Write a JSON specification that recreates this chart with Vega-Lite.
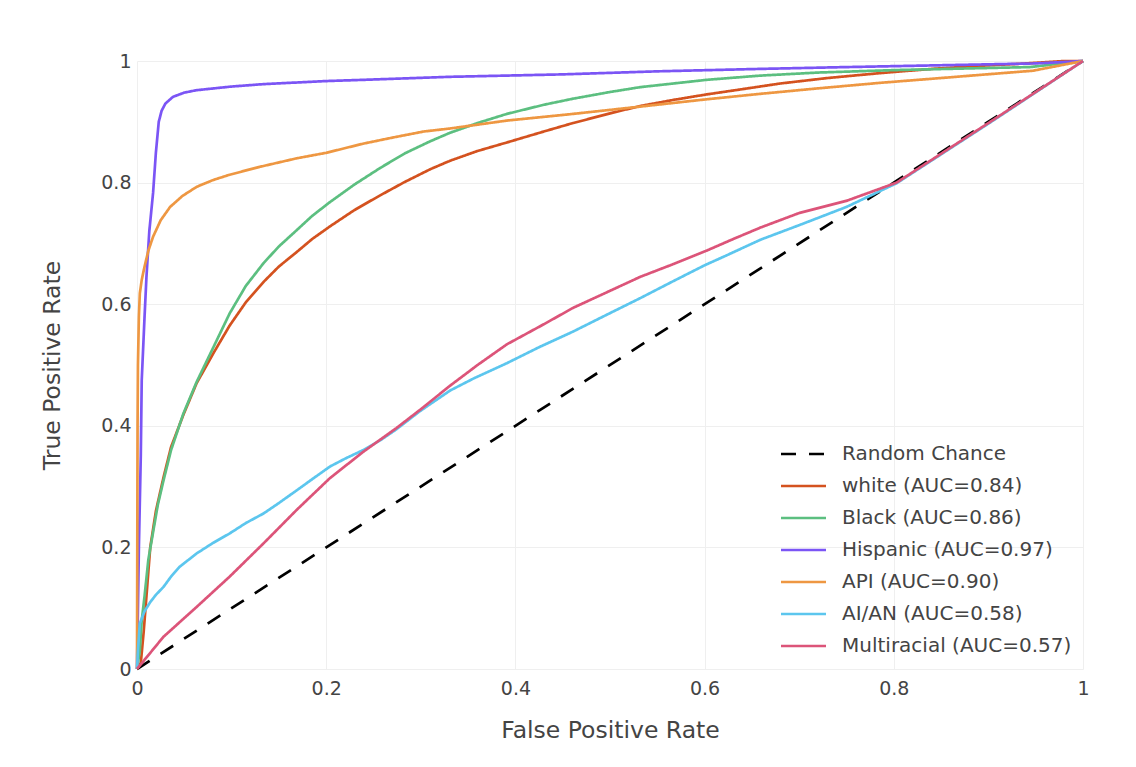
{
  "$schema": "https://vega.github.io/schema/vega-lite/v6.json",
  "width": 946,
  "height": 608,
  "autosize": "none",
  "padding": {"left": 137, "top": 61, "right": 53, "bottom": 98},
  "background": "white",
  "config": {
    "view": {"stroke": null},
    "font": "DejaVu Sans",
    "axis": {
      "domain": false,
      "ticks": false,
      "tickSize": 0,
      "gridColor": "#efefef",
      "gridWidth": 1,
      "labelFont": "DejaVu Sans",
      "labelFontSize": 19,
      "labelColor": "#444",
      "titleFont": "DejaVu Sans",
      "titleFontSize": 23.5,
      "titleFontWeight": "normal",
      "titleColor": "#444",
      "labelFlush": false
    },
    "legend": {
      "orient": "none",
      "legendX": 656.5,
      "legendY": 383,
      "padding": 0,
      "symbolType": "M-5,0H5",
      "symbolSize": 81,
      "symbolStrokeWidth": 2.7,
      "symbolFillColor": "transparent",
      "labelFont": "DejaVu Sans",
      "labelFontSize": 20,
      "labelColor": "#444",
      "labelOffset": 28.5,
      "labelLimit": 0,
      "rowPadding": 12,
      "title": null
    }
  },
  "datasets": {
    "roc": [
      {"g": "Random Chance", "x": 0, "y": 0},
      {"g": "Random Chance", "x": 1, "y": 1},

      {"g": "white (AUC=0.84)", "x": 0, "y": 0},
      {"g": "white (AUC=0.84)", "x": 0.004, "y": 0.01},
      {"g": "white (AUC=0.84)", "x": 0.007, "y": 0.06},
      {"g": "white (AUC=0.84)", "x": 0.01, "y": 0.12},
      {"g": "white (AUC=0.84)", "x": 0.014, "y": 0.2},
      {"g": "white (AUC=0.84)", "x": 0.02, "y": 0.26},
      {"g": "white (AUC=0.84)", "x": 0.028, "y": 0.315},
      {"g": "white (AUC=0.84)", "x": 0.036, "y": 0.365},
      {"g": "white (AUC=0.84)", "x": 0.049, "y": 0.418},
      {"g": "white (AUC=0.84)", "x": 0.063, "y": 0.47},
      {"g": "white (AUC=0.84)", "x": 0.081, "y": 0.52},
      {"g": "white (AUC=0.84)", "x": 0.098, "y": 0.565},
      {"g": "white (AUC=0.84)", "x": 0.115, "y": 0.603},
      {"g": "white (AUC=0.84)", "x": 0.134, "y": 0.637},
      {"g": "white (AUC=0.84)", "x": 0.15, "y": 0.662},
      {"g": "white (AUC=0.84)", "x": 0.169, "y": 0.686},
      {"g": "white (AUC=0.84)", "x": 0.185, "y": 0.707},
      {"g": "white (AUC=0.84)", "x": 0.204, "y": 0.728},
      {"g": "white (AUC=0.84)", "x": 0.23, "y": 0.755},
      {"g": "white (AUC=0.84)", "x": 0.257, "y": 0.779},
      {"g": "white (AUC=0.84)", "x": 0.283, "y": 0.801},
      {"g": "white (AUC=0.84)", "x": 0.31, "y": 0.822},
      {"g": "white (AUC=0.84)", "x": 0.331, "y": 0.836},
      {"g": "white (AUC=0.84)", "x": 0.36, "y": 0.852},
      {"g": "white (AUC=0.84)", "x": 0.391, "y": 0.866},
      {"g": "white (AUC=0.84)", "x": 0.43, "y": 0.884},
      {"g": "white (AUC=0.84)", "x": 0.461, "y": 0.898},
      {"g": "white (AUC=0.84)", "x": 0.503, "y": 0.915},
      {"g": "white (AUC=0.84)", "x": 0.532, "y": 0.926},
      {"g": "white (AUC=0.84)", "x": 0.567, "y": 0.936},
      {"g": "white (AUC=0.84)", "x": 0.602, "y": 0.945},
      {"g": "white (AUC=0.84)", "x": 0.637, "y": 0.953},
      {"g": "white (AUC=0.84)", "x": 0.68, "y": 0.963},
      {"g": "white (AUC=0.84)", "x": 0.73, "y": 0.972},
      {"g": "white (AUC=0.84)", "x": 0.785, "y": 0.98},
      {"g": "white (AUC=0.84)", "x": 0.84, "y": 0.987},
      {"g": "white (AUC=0.84)", "x": 0.89, "y": 0.992},
      {"g": "white (AUC=0.84)", "x": 0.94, "y": 0.996},
      {"g": "white (AUC=0.84)", "x": 0.98, "y": 1.0},
      {"g": "white (AUC=0.84)", "x": 1, "y": 1},

      {"g": "Black (AUC=0.86)", "x": 0, "y": 0},
      {"g": "Black (AUC=0.86)", "x": 0.003, "y": 0.03},
      {"g": "Black (AUC=0.86)", "x": 0.005, "y": 0.08},
      {"g": "Black (AUC=0.86)", "x": 0.008, "y": 0.12},
      {"g": "Black (AUC=0.86)", "x": 0.012, "y": 0.18},
      {"g": "Black (AUC=0.86)", "x": 0.017, "y": 0.225},
      {"g": "Black (AUC=0.86)", "x": 0.022, "y": 0.27},
      {"g": "Black (AUC=0.86)", "x": 0.028, "y": 0.31},
      {"g": "Black (AUC=0.86)", "x": 0.036, "y": 0.36},
      {"g": "Black (AUC=0.86)", "x": 0.049, "y": 0.42},
      {"g": "Black (AUC=0.86)", "x": 0.063, "y": 0.472},
      {"g": "Black (AUC=0.86)", "x": 0.081, "y": 0.53},
      {"g": "Black (AUC=0.86)", "x": 0.098, "y": 0.585},
      {"g": "Black (AUC=0.86)", "x": 0.115, "y": 0.63},
      {"g": "Black (AUC=0.86)", "x": 0.134, "y": 0.668},
      {"g": "Black (AUC=0.86)", "x": 0.15, "y": 0.695},
      {"g": "Black (AUC=0.86)", "x": 0.169, "y": 0.722},
      {"g": "Black (AUC=0.86)", "x": 0.185, "y": 0.745},
      {"g": "Black (AUC=0.86)", "x": 0.204, "y": 0.768},
      {"g": "Black (AUC=0.86)", "x": 0.23, "y": 0.797},
      {"g": "Black (AUC=0.86)", "x": 0.257, "y": 0.824},
      {"g": "Black (AUC=0.86)", "x": 0.283, "y": 0.848},
      {"g": "Black (AUC=0.86)", "x": 0.31, "y": 0.868},
      {"g": "Black (AUC=0.86)", "x": 0.331, "y": 0.882},
      {"g": "Black (AUC=0.86)", "x": 0.36, "y": 0.898},
      {"g": "Black (AUC=0.86)", "x": 0.391, "y": 0.913},
      {"g": "Black (AUC=0.86)", "x": 0.43, "y": 0.928},
      {"g": "Black (AUC=0.86)", "x": 0.461, "y": 0.938},
      {"g": "Black (AUC=0.86)", "x": 0.5, "y": 0.949},
      {"g": "Black (AUC=0.86)", "x": 0.532, "y": 0.957},
      {"g": "Black (AUC=0.86)", "x": 0.567, "y": 0.963},
      {"g": "Black (AUC=0.86)", "x": 0.602, "y": 0.969},
      {"g": "Black (AUC=0.86)", "x": 0.659, "y": 0.976},
      {"g": "Black (AUC=0.86)", "x": 0.72, "y": 0.981},
      {"g": "Black (AUC=0.86)", "x": 0.8, "y": 0.985},
      {"g": "Black (AUC=0.86)", "x": 0.856, "y": 0.987},
      {"g": "Black (AUC=0.86)", "x": 0.944, "y": 0.99},
      {"g": "Black (AUC=0.86)", "x": 1, "y": 1},

      {"g": "Hispanic (AUC=0.97)", "x": 0, "y": 0},
      {"g": "Hispanic (AUC=0.97)", "x": 0.001, "y": 0.1},
      {"g": "Hispanic (AUC=0.97)", "x": 0.002, "y": 0.2},
      {"g": "Hispanic (AUC=0.97)", "x": 0.004, "y": 0.35},
      {"g": "Hispanic (AUC=0.97)", "x": 0.005, "y": 0.475},
      {"g": "Hispanic (AUC=0.97)", "x": 0.008, "y": 0.58},
      {"g": "Hispanic (AUC=0.97)", "x": 0.01, "y": 0.645},
      {"g": "Hispanic (AUC=0.97)", "x": 0.013, "y": 0.72},
      {"g": "Hispanic (AUC=0.97)", "x": 0.017, "y": 0.783},
      {"g": "Hispanic (AUC=0.97)", "x": 0.02, "y": 0.85},
      {"g": "Hispanic (AUC=0.97)", "x": 0.023, "y": 0.9},
      {"g": "Hispanic (AUC=0.97)", "x": 0.026, "y": 0.918},
      {"g": "Hispanic (AUC=0.97)", "x": 0.03, "y": 0.93},
      {"g": "Hispanic (AUC=0.97)", "x": 0.038, "y": 0.941},
      {"g": "Hispanic (AUC=0.97)", "x": 0.05, "y": 0.948},
      {"g": "Hispanic (AUC=0.97)", "x": 0.063, "y": 0.952},
      {"g": "Hispanic (AUC=0.97)", "x": 0.1, "y": 0.958},
      {"g": "Hispanic (AUC=0.97)", "x": 0.134, "y": 0.962},
      {"g": "Hispanic (AUC=0.97)", "x": 0.2, "y": 0.967},
      {"g": "Hispanic (AUC=0.97)", "x": 0.239, "y": 0.969},
      {"g": "Hispanic (AUC=0.97)", "x": 0.331, "y": 0.974},
      {"g": "Hispanic (AUC=0.97)", "x": 0.45, "y": 0.978},
      {"g": "Hispanic (AUC=0.97)", "x": 0.55, "y": 0.983},
      {"g": "Hispanic (AUC=0.97)", "x": 0.659, "y": 0.987},
      {"g": "Hispanic (AUC=0.97)", "x": 0.75, "y": 0.99},
      {"g": "Hispanic (AUC=0.97)", "x": 0.85, "y": 0.993},
      {"g": "Hispanic (AUC=0.97)", "x": 0.95, "y": 0.996},
      {"g": "Hispanic (AUC=0.97)", "x": 1, "y": 1},

      {"g": "API (AUC=0.90)", "x": 0, "y": 0},
      {"g": "API (AUC=0.90)", "x": 0.0003, "y": 0.2},
      {"g": "API (AUC=0.90)", "x": 0.0006, "y": 0.4},
      {"g": "API (AUC=0.90)", "x": 0.001, "y": 0.5},
      {"g": "API (AUC=0.90)", "x": 0.002, "y": 0.58},
      {"g": "API (AUC=0.90)", "x": 0.003, "y": 0.618},
      {"g": "API (AUC=0.90)", "x": 0.005, "y": 0.64},
      {"g": "API (AUC=0.90)", "x": 0.008, "y": 0.662},
      {"g": "API (AUC=0.90)", "x": 0.012, "y": 0.688},
      {"g": "API (AUC=0.90)", "x": 0.017, "y": 0.711},
      {"g": "API (AUC=0.90)", "x": 0.025, "y": 0.738},
      {"g": "API (AUC=0.90)", "x": 0.035, "y": 0.76},
      {"g": "API (AUC=0.90)", "x": 0.048, "y": 0.778},
      {"g": "API (AUC=0.90)", "x": 0.063, "y": 0.793},
      {"g": "API (AUC=0.90)", "x": 0.08, "y": 0.804},
      {"g": "API (AUC=0.90)", "x": 0.098, "y": 0.813},
      {"g": "API (AUC=0.90)", "x": 0.13, "y": 0.826},
      {"g": "API (AUC=0.90)", "x": 0.169, "y": 0.84},
      {"g": "API (AUC=0.90)", "x": 0.2, "y": 0.849},
      {"g": "API (AUC=0.90)", "x": 0.239, "y": 0.864},
      {"g": "API (AUC=0.90)", "x": 0.27, "y": 0.874},
      {"g": "API (AUC=0.90)", "x": 0.303, "y": 0.884},
      {"g": "API (AUC=0.90)", "x": 0.331, "y": 0.889},
      {"g": "API (AUC=0.90)", "x": 0.391, "y": 0.902},
      {"g": "API (AUC=0.90)", "x": 0.461, "y": 0.913},
      {"g": "API (AUC=0.90)", "x": 0.532, "y": 0.925},
      {"g": "API (AUC=0.90)", "x": 0.602, "y": 0.937},
      {"g": "API (AUC=0.90)", "x": 0.659, "y": 0.946},
      {"g": "API (AUC=0.90)", "x": 0.72, "y": 0.955},
      {"g": "API (AUC=0.90)", "x": 0.785, "y": 0.964},
      {"g": "API (AUC=0.90)", "x": 0.85, "y": 0.972},
      {"g": "API (AUC=0.90)", "x": 0.89, "y": 0.977},
      {"g": "API (AUC=0.90)", "x": 0.947, "y": 0.984},
      {"g": "API (AUC=0.90)", "x": 1, "y": 1},

      {"g": "AI/AN (AUC=0.58)", "x": 0, "y": 0},
      {"g": "AI/AN (AUC=0.58)", "x": 0.001, "y": 0.031},
      {"g": "AI/AN (AUC=0.58)", "x": 0.003, "y": 0.075},
      {"g": "AI/AN (AUC=0.58)", "x": 0.008, "y": 0.095},
      {"g": "AI/AN (AUC=0.58)", "x": 0.014, "y": 0.11},
      {"g": "AI/AN (AUC=0.58)", "x": 0.02, "y": 0.122},
      {"g": "AI/AN (AUC=0.58)", "x": 0.028, "y": 0.135},
      {"g": "AI/AN (AUC=0.58)", "x": 0.036, "y": 0.152},
      {"g": "AI/AN (AUC=0.58)", "x": 0.045, "y": 0.168},
      {"g": "AI/AN (AUC=0.58)", "x": 0.063, "y": 0.19},
      {"g": "AI/AN (AUC=0.58)", "x": 0.08, "y": 0.207},
      {"g": "AI/AN (AUC=0.58)", "x": 0.098, "y": 0.223},
      {"g": "AI/AN (AUC=0.58)", "x": 0.115, "y": 0.24},
      {"g": "AI/AN (AUC=0.58)", "x": 0.134, "y": 0.256},
      {"g": "AI/AN (AUC=0.58)", "x": 0.15, "y": 0.273},
      {"g": "AI/AN (AUC=0.58)", "x": 0.169, "y": 0.294},
      {"g": "AI/AN (AUC=0.58)", "x": 0.185, "y": 0.312},
      {"g": "AI/AN (AUC=0.58)", "x": 0.204, "y": 0.333},
      {"g": "AI/AN (AUC=0.58)", "x": 0.22, "y": 0.346},
      {"g": "AI/AN (AUC=0.58)", "x": 0.239, "y": 0.36},
      {"g": "AI/AN (AUC=0.58)", "x": 0.257, "y": 0.376},
      {"g": "AI/AN (AUC=0.58)", "x": 0.274, "y": 0.394},
      {"g": "AI/AN (AUC=0.58)", "x": 0.299, "y": 0.424},
      {"g": "AI/AN (AUC=0.58)", "x": 0.331, "y": 0.458},
      {"g": "AI/AN (AUC=0.58)", "x": 0.356, "y": 0.478},
      {"g": "AI/AN (AUC=0.58)", "x": 0.391, "y": 0.503},
      {"g": "AI/AN (AUC=0.58)", "x": 0.426, "y": 0.53},
      {"g": "AI/AN (AUC=0.58)", "x": 0.461, "y": 0.555},
      {"g": "AI/AN (AUC=0.58)", "x": 0.497, "y": 0.583},
      {"g": "AI/AN (AUC=0.58)", "x": 0.532, "y": 0.61},
      {"g": "AI/AN (AUC=0.58)", "x": 0.567, "y": 0.638},
      {"g": "AI/AN (AUC=0.58)", "x": 0.6, "y": 0.664},
      {"g": "AI/AN (AUC=0.58)", "x": 0.62, "y": 0.678},
      {"g": "AI/AN (AUC=0.58)", "x": 0.659, "y": 0.706},
      {"g": "AI/AN (AUC=0.58)", "x": 0.7, "y": 0.73},
      {"g": "AI/AN (AUC=0.58)", "x": 0.75, "y": 0.76},
      {"g": "AI/AN (AUC=0.58)", "x": 0.803, "y": 0.799},
      {"g": "AI/AN (AUC=0.58)", "x": 0.905, "y": 0.902},
      {"g": "AI/AN (AUC=0.58)", "x": 1, "y": 1},

      {"g": "Multiracial (AUC=0.57)", "x": 0, "y": 0},
      {"g": "Multiracial (AUC=0.57)", "x": 0.028, "y": 0.053},
      {"g": "Multiracial (AUC=0.57)", "x": 0.063, "y": 0.102},
      {"g": "Multiracial (AUC=0.57)", "x": 0.098, "y": 0.152},
      {"g": "Multiracial (AUC=0.57)", "x": 0.134, "y": 0.207},
      {"g": "Multiracial (AUC=0.57)", "x": 0.169, "y": 0.262},
      {"g": "Multiracial (AUC=0.57)", "x": 0.204, "y": 0.314},
      {"g": "Multiracial (AUC=0.57)", "x": 0.239, "y": 0.357},
      {"g": "Multiracial (AUC=0.57)", "x": 0.274, "y": 0.396},
      {"g": "Multiracial (AUC=0.57)", "x": 0.299, "y": 0.426},
      {"g": "Multiracial (AUC=0.57)", "x": 0.331, "y": 0.466},
      {"g": "Multiracial (AUC=0.57)", "x": 0.36, "y": 0.5},
      {"g": "Multiracial (AUC=0.57)", "x": 0.391, "y": 0.534},
      {"g": "Multiracial (AUC=0.57)", "x": 0.43, "y": 0.567},
      {"g": "Multiracial (AUC=0.57)", "x": 0.461, "y": 0.594},
      {"g": "Multiracial (AUC=0.57)", "x": 0.5, "y": 0.622},
      {"g": "Multiracial (AUC=0.57)", "x": 0.532, "y": 0.645},
      {"g": "Multiracial (AUC=0.57)", "x": 0.567, "y": 0.666},
      {"g": "Multiracial (AUC=0.57)", "x": 0.602, "y": 0.688},
      {"g": "Multiracial (AUC=0.57)", "x": 0.63, "y": 0.707},
      {"g": "Multiracial (AUC=0.57)", "x": 0.659, "y": 0.726},
      {"g": "Multiracial (AUC=0.57)", "x": 0.7, "y": 0.75},
      {"g": "Multiracial (AUC=0.57)", "x": 0.75, "y": 0.77},
      {"g": "Multiracial (AUC=0.57)", "x": 0.803, "y": 0.8},
      {"g": "Multiracial (AUC=0.57)", "x": 0.905, "y": 0.903},
      {"g": "Multiracial (AUC=0.57)", "x": 1, "y": 1}
    ]
  },
  "data": {"name": "roc"},
  "mark": {"type": "line", "strokeWidth": 2.7, "clip": false},
  "encoding": {
    "x": {
      "field": "x",
      "type": "quantitative",
      "scale": {"domain": [0, 1], "nice": false, "zero": false},
      "axis": {
        "title": "False Positive Rate",
        "values": [0, 0.2, 0.4, 0.6, 0.8, 1],
        "format": "~g",
        "labelPadding": 10,
        "titlePadding": 20
      }
    },
    "y": {
      "field": "y",
      "type": "quantitative",
      "scale": {"domain": [0, 1], "nice": false, "zero": false},
      "axis": {
        "title": "True Positive Rate",
        "values": [0, 0.2, 0.4, 0.6, 0.8, 1],
        "format": "~g",
        "labelPadding": 6,
        "titlePadding": 36
      }
    },
    "color": {
      "field": "g",
      "type": "nominal",
      "scale": {
        "domain": ["Random Chance", "white (AUC=0.84)", "Black (AUC=0.86)", "Hispanic (AUC=0.97)", "API (AUC=0.90)", "AI/AN (AUC=0.58)", "Multiracial (AUC=0.57)"],
        "range": ["#000000", "#D4521F", "#5CBF80", "#7B55F5", "#EE9742", "#5CC6EE", "#DC5479"]
      },
      "sort": null,
      "legend": {"title": null}
    },
    "strokeDash": {
      "field": "g",
      "type": "nominal",
      "scale": {
        "domain": ["Random Chance", "white (AUC=0.84)", "Black (AUC=0.86)", "Hispanic (AUC=0.97)", "API (AUC=0.90)", "AI/AN (AUC=0.58)", "Multiracial (AUC=0.57)"],
        "range": [[15, 13], [1, 0], [1, 0], [1, 0], [1, 0], [1, 0], [1, 0]]
      },
      "sort": null,
      "legend": {"title": null}
    },
    "order": {"field": "x", "type": "quantitative"}
  }
}
